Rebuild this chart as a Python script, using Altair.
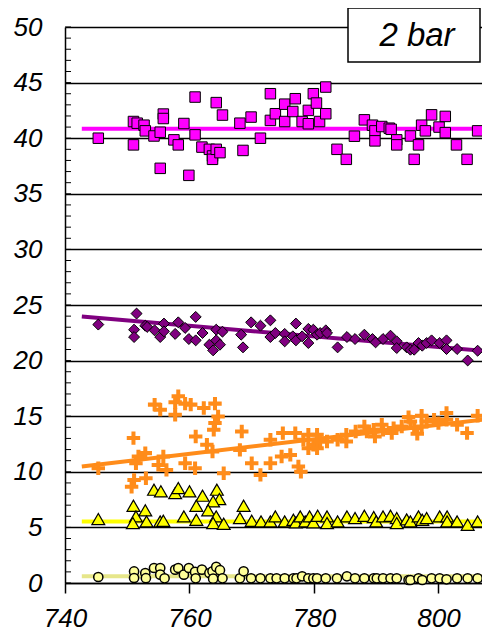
import altair as alt
import pandas as pd

# ---------------- data ----------------
sq_x = [745.35, 751.0, 751.6, 751.0, 752.7, 752.9, 754.3, 755.3, 755.8, 755.8, 755.3, 757.5, 758.2, 759.1,
        760.9, 760.9, 759.9, 762.0, 763.2, 763.7, 763.7, 764.3, 764.9, 764.3, 765.3, 768.1, 768.6, 769.9,
        771.4, 773.0, 773.0, 773.8, 775.3, 775.3, 776.6, 777.0, 778.1, 779.1, 779.1, 779.9, 780.4, 780.9,
        781.9, 781.9, 783.7, 785.2, 786.5, 788.1, 789.4, 789.8, 789.8, 790.9, 792.1, 792.4, 793.3, 793.3,
        795.5, 796.1, 796.8, 797.3, 797.9, 798.9, 800.1, 801.1, 801.1, 802.9, 804.6, 806.3]
sq_y = [40.0, 41.5, 41.35, 39.4, 41.17, 40.66, 40.2, 40.54, 42.17, 41.77, 37.29, 39.85, 39.4, 41.32,
        43.7, 40.3, 36.66, 39.2, 39.0, 38.4, 38.1, 39.0, 38.7, 43.2, 42.08, 41.35, 38.9, 41.9,
        40.0, 44.0, 41.6, 42.2, 43.06, 41.5, 42.4, 43.55, 41.5, 42.5, 41.3, 44.0, 43.16, 41.5,
        42.2, 44.6, 39.0, 38.1, 40.18, 41.65, 41.17, 40.66, 39.76, 41.05, 40.9, 40.8, 39.85, 39.4,
        40.2, 38.1, 39.4, 41.17, 40.66, 42.1, 41.0, 41.96, 40.5, 39.4, 38.1, 40.66]

dia_x = [745.35, 751.5, 751.1, 751.1, 752.9, 753.2, 754.4, 755.3, 755.9, 755.9, 757.7, 758.2, 759.3, 759.9,
         761.0, 761.0, 762.1, 763.2, 763.8, 764.3, 764.3, 764.9, 765.3, 768.3, 768.6, 769.9, 771.4, 773.0,
         773.0, 773.8, 775.3, 775.3, 776.6, 777.1, 777.1, 778.1, 779.1, 779.1, 779.9, 780.5, 781.0, 781.9,
         782.1, 783.8, 785.3, 786.6, 788.1, 789.4, 789.9, 791.1, 792.3, 793.3, 793.3, 794.9, 795.5, 796.1,
         796.8, 797.4, 798.1, 798.9, 800.2, 801.3, 801.3, 803.0, 804.7, 806.3]
dia_y = [23.24, 24.23, 22.78, 22.12, 23.14, 23.03, 22.72, 22.12, 23.33, 22.63, 22.4, 23.44, 22.94, 21.94,
         23.93, 21.82, 22.48, 21.43, 20.92, 22.78, 21.82, 21.43, 22.6, 22.33, 21.19, 23.44, 23.14, 23.62,
         22.12, 22.48, 22.4, 21.73, 22.18, 23.33, 21.82, 22.18, 22.85, 21.58, 22.78, 22.33, 22.48, 22.72,
         22.48, 21.19, 22.12, 21.94, 22.33, 21.94, 21.64, 21.94, 22.24, 21.73, 21.13, 21.19, 20.98, 20.98,
         21.58, 21.34, 21.58, 21.82, 21.58, 21.82, 21.04, 21.04, 20.01, 20.89]

cr_x = [745.35, 754.4, 755.3, 757.7, 757.7, 758.2, 759.3, 760.2, 762.3, 764.1, 764.6, 764.1, 763.9, 751.0,
        761.0, 768.4, 751.8, 752.9, 751.4, 755.0, 755.8, 756.3, 759.3, 760.9, 762.8, 763.7, 765.5, 768.1,
        770.0, 771.4, 773.0, 773.0, 774.8, 775.0, 776.2, 777.0, 777.5, 777.9, 778.3, 779.1, 779.1, 779.9,
        780.5, 780.5, 781.0, 782.1, 783.8, 785.2, 785.2, 786.7, 788.1, 788.5, 789.6, 789.8, 790.9, 791.1,
        792.5, 792.8, 794.1, 795.2, 795.5, 796.1, 796.6, 797.3, 797.3, 798.1, 799.3, 800.0, 801.3, 801.3,
        803.0, 804.6, 806.3, 750.7, 753.0, 751.1]
cr_y = [10.32, 16.04, 15.59, 15.13, 16.25, 16.79, 16.13, 16.04, 15.74, 16.13, 14.98, 14.38, 13.78, 13.03,
        13.18, 13.63, 11.37, 11.68, 10.77, 10.62, 11.37, 10.17, 10.77, 10.32, 12.43, 11.82, 9.87, 11.97,
        10.77, 9.72, 12.88, 10.77, 11.37, 13.48, 11.52, 13.48, 10.47, 10.01, 12.88, 13.33, 12.12, 12.43,
        13.33, 12.12, 12.73, 12.73, 12.88, 12.73, 13.33, 13.63, 14.08, 13.63, 13.78, 13.18, 14.23, 13.78,
        13.48, 13.93, 14.08, 14.92, 14.53, 13.93, 13.42, 15.04, 14.08, 14.53, 14.68, 14.38, 15.29, 14.68,
        14.23, 13.48, 15.04, 8.66, 9.42, 9.26]

tri_x = [745.35, 751.0, 752.9, 754.3, 755.4, 757.7, 758.2, 760.0, 762.1, 764.4, 764.8, 763.8, 761.1, 763.0,
         768.7, 759.1, 761.1, 764.3, 751.4, 750.9, 753.1, 755.3, 755.8, 763.8, 765.5, 768.1, 770.0, 771.5,
         773.0, 773.8, 775.3, 776.7, 777.1, 777.8, 778.6, 779.3, 779.9, 780.6, 782.1, 782.1, 783.8, 785.3,
         786.6, 788.1, 789.6, 790.0, 791.1, 792.3, 793.3, 793.3, 794.9, 795.5, 796.8, 797.4, 798.1, 800.2,
         801.4, 801.4, 803.0, 804.7, 806.3]
tri_y = [5.75, 6.95, 6.53, 8.39, 8.24, 8.09, 8.54, 8.24, 7.85, 8.39, 7.55, 7.34, 6.95, 6.53,
         6.95, 5.99, 5.69, 5.99, 5.99, 5.39, 5.54, 5.54, 5.6, 5.39, 5.33, 5.84, 5.6, 5.54,
         5.54, 5.99, 5.54, 5.69, 5.45, 5.99, 5.54, 5.99, 5.45, 6.05, 5.99, 5.39, 5.54, 5.99,
         5.84, 6.05, 5.93, 5.54, 5.99, 6.05, 5.84, 5.39, 5.72, 5.54, 5.99, 5.69, 5.84, 5.99,
         5.99, 5.54, 5.54, 5.24, 5.54]

ci_x = [745.35, 751.1, 751.1, 752.9, 753.0, 754.3, 755.3, 755.3, 756.0, 757.7, 758.2, 759.1, 759.9, 760.9,
        761.0, 762.0, 763.2, 763.7, 763.8, 764.3, 764.9, 765.3, 768.1, 768.7, 769.9, 771.4, 773.0, 774.0,
        775.3, 776.7, 777.2, 778.1, 779.1, 779.9, 780.5, 781.9, 783.7, 785.3, 786.6, 788.1, 789.6, 790.1,
        791.1, 792.3, 793.3, 795.2, 795.5, 796.8, 797.4, 798.9, 800.2, 801.3, 803.0, 804.7, 806.3]
ci_y = [0.54, 1.04, 0.45, 0.9, 0.43, 1.35, 1.35, 0.75, 0.42, 1.2, 1.35, 0.75, 1.35, 1.0,
        0.42, 1.2, 0.9, 1.05, 0.39, 1.45, 1.15, 0.42, 0.42, 1.05, 0.42, 0.42, 0.42, 0.42,
        0.42, 0.42, 0.42, 0.6, 0.42, 0.42, 0.42, 0.42, 0.42, 0.6, 0.42, 0.42, 0.42, 0.42,
        0.42, 0.42, 0.42, 0.27, 0.27, 0.42, 0.27, 0.42, 0.42, 0.33, 0.42, 0.42, 0.42]

fit_x = [742.7, 808.3]
fit_magenta = [40.86, 40.86]
fit_purple = [23.96, 20.82]
fit_orange = [10.48, 14.77]
fit_yellow = [5.54, 5.54]
fit_pale = [0.6, 0.6]

y_major = [0, 5, 10, 15, 20, 25, 30, 35, 40, 45, 50]
y_minor = list(range(0, 51))
x_ticks = [740, 760, 780, 800]
box_label = "2 bar"

# ---------------- chart ----------------
FONT = "Liberation Sans"
CROSS = "M-1,-0.3H-0.3V-1H0.3V-0.3H1V0.3H0.3V1H-0.3V0.3H-1Z"
xscale = alt.Scale(domain=[740, 807], nice=False, zero=False)
yscale = alt.Scale(domain=[0, 50], nice=False, zero=False)

def xenc(axis=None):
    return alt.X("x:Q", scale=xscale, axis=axis, title=None)

def yenc(axis=None, field="y:Q"):
    return alt.Y(field, scale=yscale, axis=axis, title=None)

main_x_axis = alt.Axis(values=x_ticks, grid=False, ticks=True, tickSize=10, tickColor="black",
                       tickWidth=1.5, domain=True, domainColor="black", domainWidth=1.5,
                       labelFont=FONT, labelFontSize=26, labelFontStyle="italic", labelColor="black",
                       labelPadding=12, labelFlush=False, labelOverlap=False, orient="bottom")
main_y_axis = alt.Axis(values=y_major, grid=True, gridColor="black", gridWidth=1.5, gridOpacity=1,
                       ticks=False, domain=True, domainColor="black", domainWidth=1.5,
                       labelFont=FONT, labelFontSize=26, labelFontStyle="italic", labelColor="black",
                       labelPadding=23, labelFlush=False, labelOverlap=False, orient="left")

fits = pd.DataFrame({
    "x": fit_x * 5,
    "y": fit_pale + fit_yellow + fit_orange + fit_purple + fit_magenta,
    "s": ["pale"] * 2 + ["yellow"] * 2 + ["orange"] * 2 + ["purple"] * 2 + ["magenta"] * 2,
})

lines = alt.Chart(fits).mark_line(strokeWidth=4, clip=True).encode(
    x=xenc(main_x_axis), y=yenc(main_y_axis),
    color=alt.Color("s:N", scale=alt.Scale(
        domain=["pale", "yellow", "orange", "purple", "magenta"],
        range=["#E6E68A", "#FFFF00", "#FF8C1A", "#800080", "#FF00FF"]), legend=None),
    detail="s:N",
)

minor = alt.Chart(pd.DataFrame({"m": y_minor})).mark_tick(
    orient="horizontal", size=6, thickness=1, color="black", opacity=1
).encode(x=alt.value(3), y=yenc(None, "m:Q"))

circles = alt.Chart(pd.DataFrame({"x": ci_x, "y": ci_y})).mark_point(
    shape="circle", size=85, filled=True, fill="#FFFF99", stroke="black", strokeWidth=1.5, opacity=1
).encode(x=xenc(), y=yenc())

tris = alt.Chart(pd.DataFrame({"x": tri_x, "y": tri_y})).mark_point(
    shape="triangle-up", size=165, filled=True, fill="#FFFF00", stroke="black", strokeWidth=1.2, opacity=1
).encode(x=xenc(), y=yenc())

crosses = alt.Chart(pd.DataFrame({"x": cr_x, "y": cr_y})).mark_point(
    shape=CROSS, size=180, filled=True, fill="#FF8C1A", strokeWidth=0, opacity=1
).encode(x=xenc(), y=yenc())

dias = alt.Chart(pd.DataFrame({"x": dia_x, "y": dia_y})).mark_point(
    shape="diamond", size=120, filled=True, fill="#800080", stroke="black", strokeWidth=1, opacity=1
).encode(x=xenc(), y=yenc())

squares = alt.Chart(pd.DataFrame({"x": sq_x, "y": sq_y})).mark_point(
    shape="square", size=110, filled=True, fill="#FF00FF", stroke="black", strokeWidth=1, opacity=1
).encode(x=xenc(), y=yenc())

box_df = pd.DataFrame({"t": [box_label]})
box = alt.Chart(box_df).mark_rect(fill="white", stroke="black", strokeWidth=1.5).encode(
    x=alt.value(283), x2=alt.value(415), y=alt.value(-19), y2=alt.value(35))
box_text = alt.Chart(box_df).mark_text(font=FONT, fontSize=33, fontStyle="italic", color="black",
                                       align="center", baseline="middle").encode(
    x=alt.value(352), y=alt.value(9), text="t:N")

chart = alt.layer(lines, minor, circles, tris, crosses, dias, squares, box, box_text).resolve_axis(
    x="independent", y="independent"
).properties(
    width=417, height=556,
    autosize=alt.AutoSizeParams(type="none"),
    padding={"left": 57, "top": 19, "right": 0, "bottom": 51},
    background="white",
).configure_view(stroke=None)

chart.save("out.html", embed_options={"renderer": "svg", "actions": False})
